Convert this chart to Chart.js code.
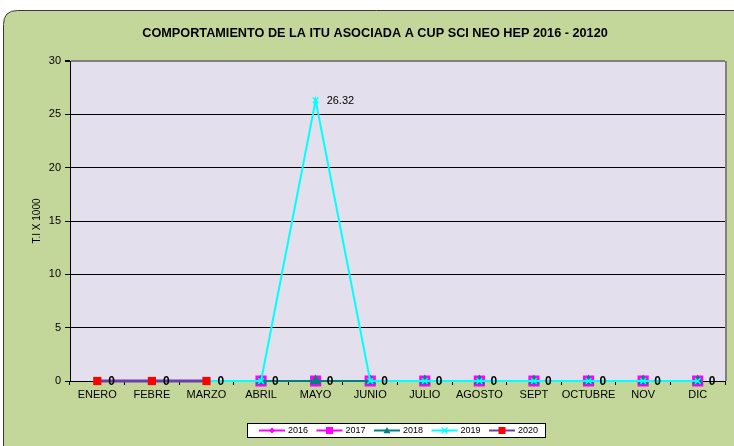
<!DOCTYPE html>
<html>
<head>
<meta charset="utf-8">
<script src="https://cdn.jsdelivr.net/npm/chart.js@4.4.1/dist/chart.umd.min.js"></script>
<style>
  html, body { margin: 0; padding: 0; background: #ffffff; }
  #wrap { width: 734px; height: 446px; position: relative; }
</style>
</head>
<body>
<div id="wrap"><canvas id="c" width="734" height="446"></canvas></div>
<script>
// Monthly ITU rate (per 1000) by year
const months = ['ENERO', 'FEBRE', 'MARZO', 'ABRIL', 'MAYO', 'JUNIO', 'JULIO', 'AGOSTO', 'SEPT', 'OCTUBRE', 'NOV', 'DIC'];
const years = ['2016', '2017', '2018', '2019', '2020'];
const rate2016 = [null, null, null, 0, 0, 0, 0, 0, 0, 0, 0, 0];
const rate2017 = [null, null, null, 0, 0, 0, 0, 0, 0, 0, 0, 0];
const rate2018 = [null, null, null, 0, 0, 0, 0, 0, 0, 0, 0, 0];
const rate2019 = [null, null, 0, 0, 26.32, 0, 0, 0, 0, 0, 0, 0];
const rate2020 = [0, 0, 0, null, null, null, null, null, null, null, null, null];
const yTicks = [0, 5, 10, 15, 20, 25, 30];
const chartTitle = 'COMPORTAMIENTO DE LA ITU ASOCIADA A CUP SCI NEO HEP 2016 - 20120';
const yTitle = 'T.I X 1000';

const FONT = 'Arial, "Liberation Sans", sans-serif';

// Small marker painter used by the legend
function marker(ctx, style, x, y, r, fill, stroke) {
  ctx.save();
  ctx.fillStyle = fill;
  ctx.strokeStyle = stroke;
  ctx.lineWidth = 1;
  ctx.beginPath();
  if (style === 'rect') {
    ctx.rect(x - r, y - r, 2 * r, 2 * r);
    ctx.fill();
  } else if (style === 'rectRot') {
    ctx.moveTo(x, y - r); ctx.lineTo(x + r, y); ctx.lineTo(x, y + r); ctx.lineTo(x - r, y);
    ctx.closePath(); ctx.fill();
  } else if (style === 'triangle') {
    ctx.moveTo(x, y - r); ctx.lineTo(x + r, y + r * 0.8); ctx.lineTo(x - r, y + r * 0.8);
    ctx.closePath(); ctx.fill();
  } else if (style === 'crossRot') {
    ctx.lineWidth = 1.3;
    ctx.moveTo(x - r, y - r); ctx.lineTo(x + r, y + r);
    ctx.moveTo(x + r, y - r); ctx.lineTo(x - r, y + r);
    ctx.stroke();
  }
  ctx.restore();
}

// Background panel, plot area fill and frame
const framePlugin = {
  id: 'frame',
  beforeDraw(chart) {
    const ctx = chart.ctx;
    const a = chart.chartArea;
    ctx.save();
    ctx.fillStyle = '#ffffff';
    ctx.fillRect(0, 0, chart.width, chart.height);
    // rounded green panel
    const x0 = 3.5, y0 = 10.5, w = 760, h = 470, r = 14;
    ctx.beginPath();
    ctx.moveTo(x0 + r, y0);
    ctx.lineTo(x0 + w, y0);
    ctx.lineTo(x0 + w, y0 + h);
    ctx.lineTo(x0, y0 + h);
    ctx.lineTo(x0, y0 + r);
    ctx.quadraticCurveTo(x0, y0, x0 + r, y0);
    ctx.closePath();
    ctx.fillStyle = '#C4D79B';
    ctx.fill();
    ctx.strokeStyle = '#3a3a3a';
    ctx.lineWidth = 1;
    ctx.stroke();
    // plot area
    ctx.fillStyle = '#E4DFEC';
    ctx.fillRect(a.left, a.top, a.right - a.left, a.bottom - a.top);
    ctx.restore();
  },
  beforeDatasetsDraw(chart) {
    const ctx = chart.ctx;
    const a = chart.chartArea;
    ctx.save();
    ctx.strokeStyle = '#808080';
    ctx.lineWidth = 2;
    ctx.beginPath();
    ctx.moveTo(a.right + 1, a.top);
    ctx.lineTo(a.right + 1, a.bottom);
    ctx.stroke();
    ctx.restore();
  },
  afterDraw(chart) {
    const ctx = chart.ctx;
    ctx.save();
    // title
    ctx.fillStyle = '#000';
    ctx.font = 'bold 12.7px ' + FONT;
    ctx.textAlign = 'center';
    ctx.textBaseline = 'middle';
    ctx.fillText(chartTitle, 375, 33);
    // legend box
    const bx = 247.5, by = 423.5, bw = 298, bh = 14;
    ctx.fillStyle = '#ffffff';
    ctx.fillRect(bx, by, bw, bh);
    ctx.strokeStyle = '#000';
    ctx.lineWidth = 1;
    ctx.strokeRect(bx, by, bw, bh);
    const cy = 430.5;
    chart.data.datasets.forEach((ds, i) => {
      const sx = 259 + i * 57.5;
      ctx.strokeStyle = ds.borderColor;
      ctx.lineWidth = 2;
      ctx.beginPath();
      ctx.moveTo(sx, cy);
      ctx.lineTo(sx + 26, cy);
      ctx.stroke();
      marker(ctx, ds.pointStyle, sx + 13, cy, ds.legendRadius, ds.pointBackgroundColor, ds.pointBorderColor);
      ctx.fillStyle = '#000';
      ctx.font = '9px ' + FONT;
      ctx.textAlign = 'left';
      ctx.textBaseline = 'middle';
      ctx.fillText(ds.label, sx + 29, cy);
    });
    ctx.restore();
  }
};

// Value labels next to the markers
const valueLabelPlugin = {
  id: 'valueLabels',
  afterDatasetsDraw(chart) {
    const ctx = chart.ctx;
    ctx.save();
    ctx.fillStyle = '#000';
    ctx.textAlign = 'left';
    ctx.textBaseline = 'middle';
    chart.data.datasets.forEach((ds, di) => {
      if (!ds.valueLabels) return;
      const meta = chart.getDatasetMeta(di);
      const vals = ds.data.filter(v => v !== null);
      const peak = Math.max(...vals);
      ds.data.forEach((v, i) => {
        if (v === null) return;
        if (ds.valueLabels === 'peak' && v !== peak) return;
        const pt = meta.data[i];
        ctx.font = ds.valueLabelFont;
        ctx.fillText(String(v), pt.x + 11, pt.y + 1);
      });
    });
    ctx.restore();
  }
};

const datasets = [
  {
    label: years[0], data: rate2016, order: 4,
    borderColor: '#FF00FF', borderWidth: 2,
    pointStyle: 'rectRot', pointRadius: 4, legendRadius: 3,
    pointBackgroundColor: '#FF00FF', pointBorderColor: '#FF00FF'
  },
  {
    label: years[1], data: rate2017, order: 3,
    borderColor: '#FF00FF', borderWidth: 2,
    pointStyle: 'rect', pointRadius: 6.5, legendRadius: 3.5,
    pointBackgroundColor: '#FF00FF', pointBorderColor: '#FF00FF'
  },
  {
    label: years[2], data: rate2018, order: 2,
    borderColor: '#008080', borderWidth: 2,
    pointStyle: 'triangle', pointRadius: 4.5, legendRadius: 3.5,
    pointBackgroundColor: '#008080', pointBorderColor: '#008080',
    valueLabels: 'all', valueLabelFont: 'bold 12px ' + FONT
  },
  {
    label: years[3], data: rate2019, order: 1,
    borderColor: '#00FFFF', borderWidth: 2,
    pointStyle: 'crossRot', pointRadius: 4, pointBorderWidth: 1.5, legendRadius: 3,
    pointBackgroundColor: '#00FFFF', pointBorderColor: '#00FFFF',
    valueLabels: 'peak', valueLabelFont: '11px ' + FONT
  },
  {
    label: years[4], data: rate2020, order: 0,
    borderColor: '#6B3FA8', borderWidth: 3,
    pointStyle: 'rect', pointRadius: 5.8, pointBorderWidth: 0, legendRadius: 3.5,
    pointBackgroundColor: '#FF0000', pointBorderColor: '#FF0000',
    valueLabels: 'all', valueLabelFont: 'bold 12px ' + FONT
  }
].map(d => Object.assign({ tension: 0, clip: false, spanGaps: false, pointHoverRadius: d.pointRadius }, d));

new Chart(document.getElementById('c'), {
  type: 'line',
  data: { labels: months, datasets },
  plugins: [framePlugin, valueLabelPlugin],
  options: {
    responsive: false,
    animation: false,
    devicePixelRatio: 1,
    layout: { padding: { top: 61, left: 0, right: 9, bottom: 45 } },
    plugins: {
      legend: { display: false },
      title: { display: false },
      tooltip: { enabled: false }
    },
    scales: {
      x: {
        offset: true,
        afterFit(scale) { scale.height = 20; },
        grid: {
          offset: true, drawOnChartArea: false, drawTicks: true,
          tickLength: 4, tickColor: '#000', lineWidth: 1
        },
        border: { display: true, color: '#000', width: 1 },
        ticks: { color: '#000', font: { family: FONT, size: 11 }, padding: 3, maxRotation: 0, autoSkip: false }
      },
      y: {
        min: 0, max: 30,
        afterFit(scale) { scale.width = 70; },
        afterBuildTicks(scale) { scale.ticks = yTicks.map(v => ({ value: v })); },
        grid: {
          color: c => (c.tick && c.tick.value === 30) ? '#808080' : '#000',
          lineWidth: c => (c.tick && c.tick.value === 30) ? 2 : 1,
          drawTicks: true, tickLength: 5, tickColor: '#000'
        },
        border: { display: true, color: '#000', width: 1 },
        ticks: { color: '#000', font: { family: FONT, size: 11 }, padding: 4 },
        title: {
          display: true, text: yTitle, color: '#000',
          font: { family: FONT, size: 10 }, padding: { top: 31, bottom: 0 }
        }
      }
    }
  }
});
</script>
</body>
</html>
